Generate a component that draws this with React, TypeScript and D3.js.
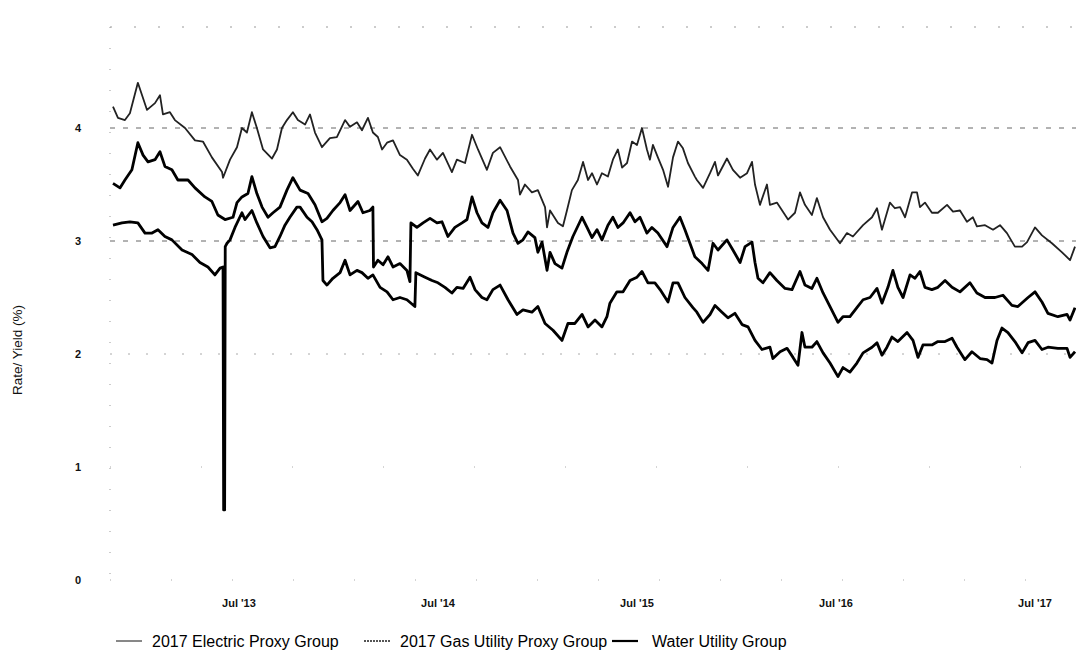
import React, { useEffect, useRef } from 'react';
import * as d3 from 'd3';

// dates are decimal years, values are rate / yield in %
const electric: [number, number][] = [
  [2012.863, 4.19], [2012.888, 4.09], [2012.923, 4.07], [2012.948, 4.13], [2012.988, 4.40],
  [2013.034, 4.16], [2013.074, 4.22], [2013.099, 4.29], [2013.114, 4.12], [2013.149, 4.14],
  [2013.174, 4.07], [2013.225, 4.00], [2013.275, 3.89], [2013.315, 3.88], [2013.360, 3.74],
  [2013.411, 3.61], [2013.416, 3.56], [2013.451, 3.72], [2013.486, 3.83], [2013.511, 4.00],
  [2013.536, 3.96], [2013.561, 4.14], [2013.586, 4.00], [2013.617, 3.81], [2013.662, 3.73],
  [2013.687, 3.81], [2013.712, 4.00], [2013.737, 4.07], [2013.767, 4.14], [2013.792, 4.07],
  [2013.828, 4.03], [2013.853, 4.12], [2013.878, 3.96], [2013.913, 3.83], [2013.953, 3.91],
  [2013.988, 3.92], [2014.029, 4.07], [2014.054, 4.01], [2014.089, 4.05], [2014.114, 3.98],
  [2014.144, 4.09], [2014.169, 3.96], [2014.194, 3.92], [2014.215, 3.81], [2014.240, 3.87],
  [2014.270, 3.89], [2014.305, 3.76], [2014.340, 3.72], [2014.370, 3.64], [2014.395, 3.58],
  [2014.431, 3.73], [2014.456, 3.81], [2014.491, 3.72], [2014.521, 3.78], [2014.566, 3.61],
  [2014.591, 3.72], [2014.632, 3.69], [2014.667, 3.94], [2014.697, 3.81], [2014.742, 3.63],
  [2014.772, 3.78], [2014.808, 3.83], [2014.858, 3.66], [2014.898, 3.54], [2014.908, 3.41],
  [2014.933, 3.50], [2014.968, 3.43], [2014.998, 3.45], [2015.034, 3.30], [2015.044, 3.12],
  [2015.059, 3.27], [2015.099, 3.16], [2015.124, 3.13], [2015.144, 3.27], [2015.169, 3.45],
  [2015.199, 3.54], [2015.225, 3.70], [2015.250, 3.54], [2015.270, 3.60], [2015.295, 3.50],
  [2015.320, 3.60], [2015.350, 3.57], [2015.375, 3.72], [2015.400, 3.81], [2015.421, 3.65],
  [2015.446, 3.69], [2015.471, 3.88], [2015.496, 3.85], [2015.521, 4.00], [2015.546, 3.81],
  [2015.561, 3.72], [2015.576, 3.85], [2015.601, 3.74], [2015.627, 3.63], [2015.652, 3.48],
  [2015.677, 3.74], [2015.702, 3.88], [2015.727, 3.82], [2015.752, 3.69], [2015.787, 3.57],
  [2015.797, 3.54], [2015.828, 3.47], [2015.863, 3.60], [2015.888, 3.70], [2015.903, 3.58],
  [2015.948, 3.73], [2015.978, 3.63], [2016.014, 3.56], [2016.049, 3.60], [2016.074, 3.70],
  [2016.089, 3.50], [2016.114, 3.32], [2016.149, 3.50], [2016.164, 3.32], [2016.199, 3.34],
  [2016.255, 3.19], [2016.290, 3.25], [2016.315, 3.43], [2016.340, 3.32], [2016.375, 3.23],
  [2016.400, 3.38], [2016.431, 3.21], [2016.466, 3.10], [2016.516, 2.98], [2016.551, 3.07],
  [2016.581, 3.04], [2016.632, 3.14], [2016.677, 3.21], [2016.702, 3.29], [2016.727, 3.10],
  [2016.767, 3.34], [2016.792, 3.29], [2016.818, 3.30], [2016.843, 3.21], [2016.878, 3.43],
  [2016.903, 3.43], [2016.918, 3.30], [2016.943, 3.34], [2016.978, 3.25], [2017.008, 3.25],
  [2017.054, 3.32], [2017.084, 3.26], [2017.119, 3.27], [2017.154, 3.17], [2017.184, 3.21],
  [2017.204, 3.13], [2017.245, 3.14], [2017.285, 3.10], [2017.320, 3.14], [2017.355, 3.07],
  [2017.395, 2.95], [2017.431, 2.95], [2017.456, 2.99], [2017.496, 3.12], [2017.531, 3.05],
  [2017.581, 2.98], [2017.632, 2.90], [2017.672, 2.83], [2017.697, 2.95]
];

const gas: [number, number][] = [
  [2012.863, 3.51], [2012.898, 3.47], [2012.923, 3.54], [2012.958, 3.63], [2012.988, 3.87],
  [2013.014, 3.76], [2013.039, 3.70], [2013.074, 3.72], [2013.099, 3.79], [2013.124, 3.66],
  [2013.159, 3.63], [2013.189, 3.54], [2013.240, 3.54], [2013.275, 3.47], [2013.325, 3.39],
  [2013.360, 3.35], [2013.390, 3.23], [2013.426, 3.19], [2013.466, 3.21], [2013.486, 3.34],
  [2013.511, 3.39], [2013.541, 3.42], [2013.561, 3.57], [2013.586, 3.42], [2013.612, 3.30],
  [2013.642, 3.21], [2013.667, 3.25], [2013.702, 3.30], [2013.737, 3.45], [2013.767, 3.56],
  [2013.803, 3.45], [2013.843, 3.42], [2013.878, 3.32], [2013.913, 3.17], [2013.938, 3.20],
  [2013.968, 3.27], [2014.004, 3.34], [2014.029, 3.41], [2014.054, 3.27], [2014.094, 3.35],
  [2014.119, 3.25], [2014.154, 3.27], [2014.169, 3.30], [2014.172, 2.77], [2014.194, 2.83],
  [2014.220, 2.79], [2014.245, 2.86], [2014.270, 2.77], [2014.305, 2.80], [2014.340, 2.74],
  [2014.355, 2.64], [2014.360, 3.16], [2014.390, 3.12], [2014.421, 3.16], [2014.456, 3.20],
  [2014.491, 3.16], [2014.516, 3.17], [2014.546, 3.04], [2014.581, 3.12], [2014.617, 3.16],
  [2014.642, 3.19], [2014.667, 3.39], [2014.692, 3.25], [2014.717, 3.16], [2014.747, 3.12],
  [2014.772, 3.25], [2014.808, 3.36], [2014.843, 3.27], [2014.873, 3.07], [2014.898, 2.98],
  [2014.923, 3.01], [2014.948, 3.08], [2014.983, 3.03], [2014.998, 2.90], [2015.019, 2.99],
  [2015.044, 2.74], [2015.059, 2.90], [2015.084, 2.80], [2015.119, 2.76], [2015.144, 2.90],
  [2015.174, 3.04], [2015.220, 3.21], [2015.245, 3.12], [2015.270, 3.03], [2015.295, 3.10],
  [2015.320, 3.01], [2015.350, 3.14], [2015.375, 3.21], [2015.400, 3.12], [2015.426, 3.16],
  [2015.461, 3.25], [2015.486, 3.17], [2015.511, 3.21], [2015.546, 3.07], [2015.571, 3.12],
  [2015.601, 3.07], [2015.647, 2.95], [2015.677, 3.12], [2015.712, 3.21], [2015.737, 3.10],
  [2015.762, 2.98], [2015.787, 2.86], [2015.823, 2.80], [2015.853, 2.74], [2015.878, 2.98],
  [2015.903, 2.92], [2015.948, 3.01], [2015.978, 2.92], [2016.014, 2.81], [2016.039, 2.95],
  [2016.074, 2.99], [2016.089, 2.81], [2016.104, 2.67], [2016.129, 2.63], [2016.164, 2.72],
  [2016.199, 2.65], [2016.240, 2.58], [2016.275, 2.57], [2016.315, 2.73], [2016.340, 2.61],
  [2016.375, 2.58], [2016.400, 2.67], [2016.431, 2.54], [2016.466, 2.42], [2016.506, 2.28],
  [2016.531, 2.33], [2016.566, 2.33], [2016.601, 2.41], [2016.632, 2.48], [2016.667, 2.50],
  [2016.702, 2.58], [2016.727, 2.45], [2016.757, 2.59], [2016.782, 2.74], [2016.807, 2.59],
  [2016.833, 2.50], [2016.868, 2.70], [2016.893, 2.67], [2016.918, 2.73], [2016.943, 2.59],
  [2016.978, 2.57], [2017.008, 2.59], [2017.044, 2.65], [2017.079, 2.59], [2017.119, 2.55],
  [2017.169, 2.63], [2017.204, 2.54], [2017.245, 2.50], [2017.295, 2.50], [2017.335, 2.52],
  [2017.380, 2.43], [2017.410, 2.42], [2017.461, 2.50], [2017.496, 2.55], [2017.531, 2.46],
  [2017.561, 2.36], [2017.611, 2.33], [2017.657, 2.35], [2017.672, 2.30], [2017.697, 2.41]
];

const water: [number, number][] = [
  [2012.863, 3.14], [2012.908, 3.16], [2012.948, 3.17], [2012.988, 3.16], [2013.024, 3.07],
  [2013.059, 3.07], [2013.089, 3.10], [2013.124, 3.04], [2013.159, 3.01], [2013.210, 2.92],
  [2013.260, 2.88], [2013.300, 2.81], [2013.340, 2.77], [2013.375, 2.70], [2013.401, 2.76],
  [2013.416, 2.77], [2013.419, 0.62], [2013.424, 0.62], [2013.427, 2.95], [2013.436, 2.98],
  [2013.451, 3.01], [2013.476, 3.12], [2013.511, 3.25], [2013.526, 3.19], [2013.561, 3.27],
  [2013.586, 3.16], [2013.617, 3.04], [2013.652, 2.94], [2013.677, 2.95], [2013.702, 3.04],
  [2013.727, 3.14], [2013.752, 3.21], [2013.787, 3.30], [2013.803, 3.30], [2013.838, 3.21],
  [2013.863, 3.17], [2013.888, 3.10], [2013.913, 3.01], [2013.918, 2.65], [2013.938, 2.61],
  [2013.968, 2.67], [2014.004, 2.72], [2014.029, 2.83], [2014.054, 2.70], [2014.089, 2.74],
  [2014.114, 2.72], [2014.144, 2.67], [2014.169, 2.70], [2014.205, 2.59], [2014.240, 2.55],
  [2014.270, 2.48], [2014.305, 2.50], [2014.340, 2.48], [2014.380, 2.42], [2014.385, 2.72],
  [2014.431, 2.68], [2014.466, 2.65], [2014.496, 2.63], [2014.531, 2.59], [2014.566, 2.54],
  [2014.591, 2.59], [2014.622, 2.58], [2014.657, 2.68], [2014.682, 2.57], [2014.717, 2.50],
  [2014.742, 2.48], [2014.772, 2.57], [2014.808, 2.61], [2014.848, 2.48], [2014.893, 2.35],
  [2014.923, 2.39], [2014.968, 2.37], [2014.998, 2.42], [2015.034, 2.27], [2015.074, 2.21],
  [2015.119, 2.12], [2015.149, 2.27], [2015.184, 2.27], [2015.220, 2.35], [2015.250, 2.24],
  [2015.285, 2.30], [2015.320, 2.24], [2015.345, 2.33], [2015.360, 2.45], [2015.395, 2.55],
  [2015.426, 2.55], [2015.461, 2.65], [2015.496, 2.68], [2015.521, 2.73], [2015.551, 2.63],
  [2015.586, 2.63], [2015.612, 2.57], [2015.652, 2.46], [2015.677, 2.63], [2015.702, 2.63],
  [2015.737, 2.50], [2015.777, 2.41], [2015.797, 2.37], [2015.828, 2.28], [2015.863, 2.35],
  [2015.888, 2.43], [2015.923, 2.37], [2015.953, 2.32], [2015.988, 2.36], [2016.024, 2.26],
  [2016.054, 2.24], [2016.089, 2.12], [2016.124, 2.04], [2016.164, 2.06], [2016.179, 1.96],
  [2016.215, 2.02], [2016.250, 2.05], [2016.280, 1.97], [2016.305, 1.90], [2016.325, 2.19],
  [2016.340, 2.06], [2016.375, 2.06], [2016.400, 2.11], [2016.431, 2.01], [2016.466, 1.92],
  [2016.506, 1.80], [2016.531, 1.88], [2016.566, 1.84], [2016.601, 1.92], [2016.632, 2.01],
  [2016.677, 2.06], [2016.702, 2.10], [2016.727, 1.99], [2016.752, 2.06], [2016.777, 2.15],
  [2016.807, 2.11], [2016.853, 2.19], [2016.883, 2.12], [2016.908, 1.97], [2016.933, 2.08],
  [2016.978, 2.08], [2017.008, 2.11], [2017.044, 2.11], [2017.079, 2.14], [2017.104, 2.06],
  [2017.144, 1.95], [2017.179, 2.02], [2017.220, 1.96], [2017.255, 1.95], [2017.280, 1.92],
  [2017.305, 2.12], [2017.330, 2.23], [2017.360, 2.19], [2017.395, 2.11], [2017.431, 2.01],
  [2017.461, 2.10], [2017.496, 2.12], [2017.531, 2.04], [2017.561, 2.06], [2017.611, 2.05],
  [2017.657, 2.05], [2017.672, 1.97], [2017.697, 2.02]
];

const yTicks = [0, 1, 2, 3, 4];
const xTickYears = [2013, 2014, 2015, 2016, 2017];
const xTickLabels = ["Jul '13", "Jul '14", "Jul '15", "Jul '16", "Jul '17"];
const seriesNames = ['2017 Electric Proxy Group', '2017 Gas Utility Proxy Group', 'Water Utility Group'];

const FONT = '"Liberation Sans", Arial, sans-serif';

export default function App() {
  const ref = useRef<SVGSVGElement>(null);

  useEffect(() => {
    const width = 1076;
    const height = 656;
    const svg = d3.select(ref.current);
    svg.selectAll('*').remove();

    const margin = { top: 27, right: 0, bottom: 76, left: 110 };

    const x = d3.scaleLinear()
      .domain([2012.858, 2017.702])
      .range([112, width - margin.right]);

    const y = d3.scaleLinear()
      .domain([0, 4])
      .range([height - margin.bottom, 128]);

    // dotted frame bits left over from the scan
    svg.append('line')
      .attr('x1', margin.left).attr('x2', width)
      .attr('y1', margin.top).attr('y2', margin.top)
      .attr('stroke', '#999').attr('stroke-width', 1)
      .attr('stroke-dasharray', '2 22');

    svg.append('line')
      .attr('x1', margin.left).attr('x2', margin.left)
      .attr('y1', margin.top).attr('y2', y(0))
      .attr('stroke', '#999').attr('stroke-width', 1)
      .attr('stroke-dasharray', '1 20');

    // gridlines
    const gridStyle: Record<number, string> = { 0: '1 60', 1: '1 90', 2: '2 16', 3: '5 8', 4: '5 8' };
    svg.append('g')
      .selectAll('line')
      .data(yTicks)
      .join('line')
      .attr('x1', margin.left)
      .attr('x2', width)
      .attr('y1', d => y(d))
      .attr('y2', d => y(d))
      .attr('stroke', d => (d >= 3 ? '#666' : '#aaa'))
      .attr('stroke-width', 1)
      .attr('stroke-dasharray', d => gridStyle[d]);

    // y tick labels
    svg.append('g')
      .selectAll('text')
      .data(yTicks)
      .join('text')
      .attr('x', 78)
      .attr('y', d => y(d))
      .attr('dy', '0.35em')
      .attr('text-anchor', 'middle')
      .attr('font-family', FONT)
      .attr('font-size', 11)
      .attr('font-weight', 'bold')
      .attr('fill', '#111')
      .text(d => d);

    // x tick labels (1 July each year)
    svg.append('g')
      .selectAll('text')
      .data(xTickYears)
      .join('text')
      .attr('x', d => x(d + 0.496))
      .attr('y', 607)
      .attr('text-anchor', 'middle')
      .attr('font-family', FONT)
      .attr('font-size', 11)
      .attr('font-weight', 'bold')
      .attr('fill', '#111')
      .text((d, i) => xTickLabels[i]);

    // y title
    svg.append('text')
      .attr('transform', 'translate(22,350) rotate(-90)')
      .attr('text-anchor', 'middle')
      .attr('font-family', FONT)
      .attr('font-size', 13.5)
      .attr('fill', '#111')
      .text('Rate/ Yield (%)');

    const line = d3.line<[number, number]>()
      .x(d => x(d[0]))
      .y(d => y(d[1]))
      .curve(d3.curveLinear);

    const styles = [
      { data: electric, stroke: '#222', width: 1.8 },
      { data: gas, stroke: '#000', width: 2.8 },
      { data: water, stroke: '#000', width: 2.8 },
    ];

    svg.append('g')
      .selectAll('path')
      .data(styles)
      .join('path')
      .attr('fill', 'none')
      .attr('stroke', d => d.stroke)
      .attr('stroke-width', d => d.width)
      .attr('stroke-linejoin', 'round')
      .attr('d', d => line(d.data));

    // legend
    const legendItems = [
      { x: 116, tx: 152, stroke: '#111', width: 1, dash: null as string | null },
      { x: 364, tx: 400, stroke: '#555', width: 2, dash: '2 1' },
      { x: 612, tx: 652, stroke: '#000', width: 2.2, dash: null as string | null },
    ];
    const lg = svg.append('g').attr('font-family', FONT).attr('font-size', 16).attr('fill', '#000');
    legendItems.forEach((item, i) => {
      lg.append('line')
        .attr('x1', item.x).attr('x2', item.x + 26)
        .attr('y1', 641).attr('y2', 641)
        .attr('stroke', item.stroke)
        .attr('stroke-width', item.width)
        .attr('stroke-dasharray', item.dash);
      lg.append('text')
        .attr('x', item.tx)
        .attr('y', 641)
        .attr('dy', '0.35em')
        .text(seriesNames[i]);
    });
  }, []);

  return (
    <svg
      ref={ref}
      width={1076}
      height={656}
      style={{ position: 'absolute', left: 0, top: 0, background: '#fff' }}
    />
  );
}
